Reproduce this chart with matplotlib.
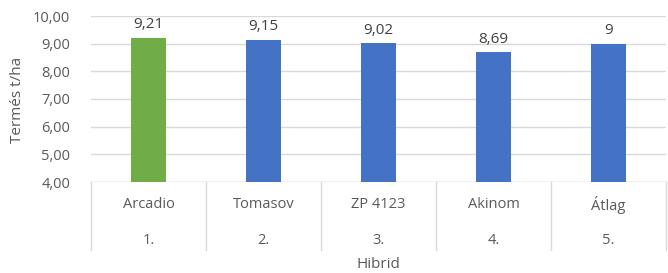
import matplotlib.pyplot as plt
from matplotlib.lines import Line2D

# data
hibrid = ["Arcadio", "Tomasov", "ZP 4123", "Akinom", "Átlag"]
rang = ["1.", "2.", "3.", "4.", "5."]
termes = [9.21, 9.15, 9.02, 8.69, 9.0]
termes_labels = ["9,21", "9,15", "9,02", "8,69", "9"]
bar_colors = ["#70AD47", "#4472C4", "#4472C4", "#4472C4", "#4472C4"]
yticks = [4, 5, 6, 7, 8, 9, 10]

plt.rcParams['font.family'] = ['Open Sans', 'DejaVu Sans']
txt = '#595959'
grid = '#D9D9D9'

W, H = 668, 273
fig = plt.figure(figsize=(W / 100, H / 100), dpi=100)
ax = fig.add_axes([91 / W, (H - 182) / H, (666 - 91) / W, (182 - 16) / H])

x = list(range(len(hibrid)))
ax.bar(x, [t - 4 for t in termes], bottom=4, width=0.31, color=bar_colors, zorder=2)

ax.set_xlim(-0.5, len(hibrid) - 0.5)
ax.set_ylim(4, 10)
ax.set_yticks(yticks)
ax.set_yticklabels([f"{v:.2f}".replace(".", ",") for v in yticks], fontsize=10.5, color=txt)
ax.tick_params(axis='y', length=0, pad=15)
ax.set_xticks([])
for s in ax.spines.values():
    s.set_visible(False)
ax.grid(axis='y', color=grid, linewidth=1, zorder=0)
ax.axhline(4, color=grid, linewidth=1, zorder=1)

# value labels
for xi, t, lab in zip(x, termes, termes_labels):
    ax.annotate(lab, (xi, t), xytext=(0, 4), textcoords='offset points',
                ha='center', va='bottom', fontsize=11, color='#404040')

# two-level category axis
px = 1 / (182 - 16)  # one pixel in axes units (vertical)
trans = ax.get_xaxis_transform()
for i in range(len(hibrid) + 1):
    ax.add_line(Line2D([i - 0.5, i - 0.5], [0, -68 * px], transform=trans,
                       color=grid, linewidth=1, clip_on=False))
for xi, name, r in zip(x, hibrid, rang):
    ax.text(xi, -23 * px, name, transform=trans, ha='center', va='center',
            fontsize=10.5, color=txt)
    ax.text(xi, -58 * px, r, transform=trans, ha='center', va='center',
            fontsize=10.5, color=txt)

ax.text(0.5, -83 * px, "Hibrid", transform=ax.transAxes, ha='center', va='center',
        fontsize=11, color=txt)
fig.text(18 / W, 1 - 100 / H, "Termés t/ha", rotation=90, ha='center', va='center',
         fontsize=11, color=txt)

fig.savefig("out.png", dpi=100)
